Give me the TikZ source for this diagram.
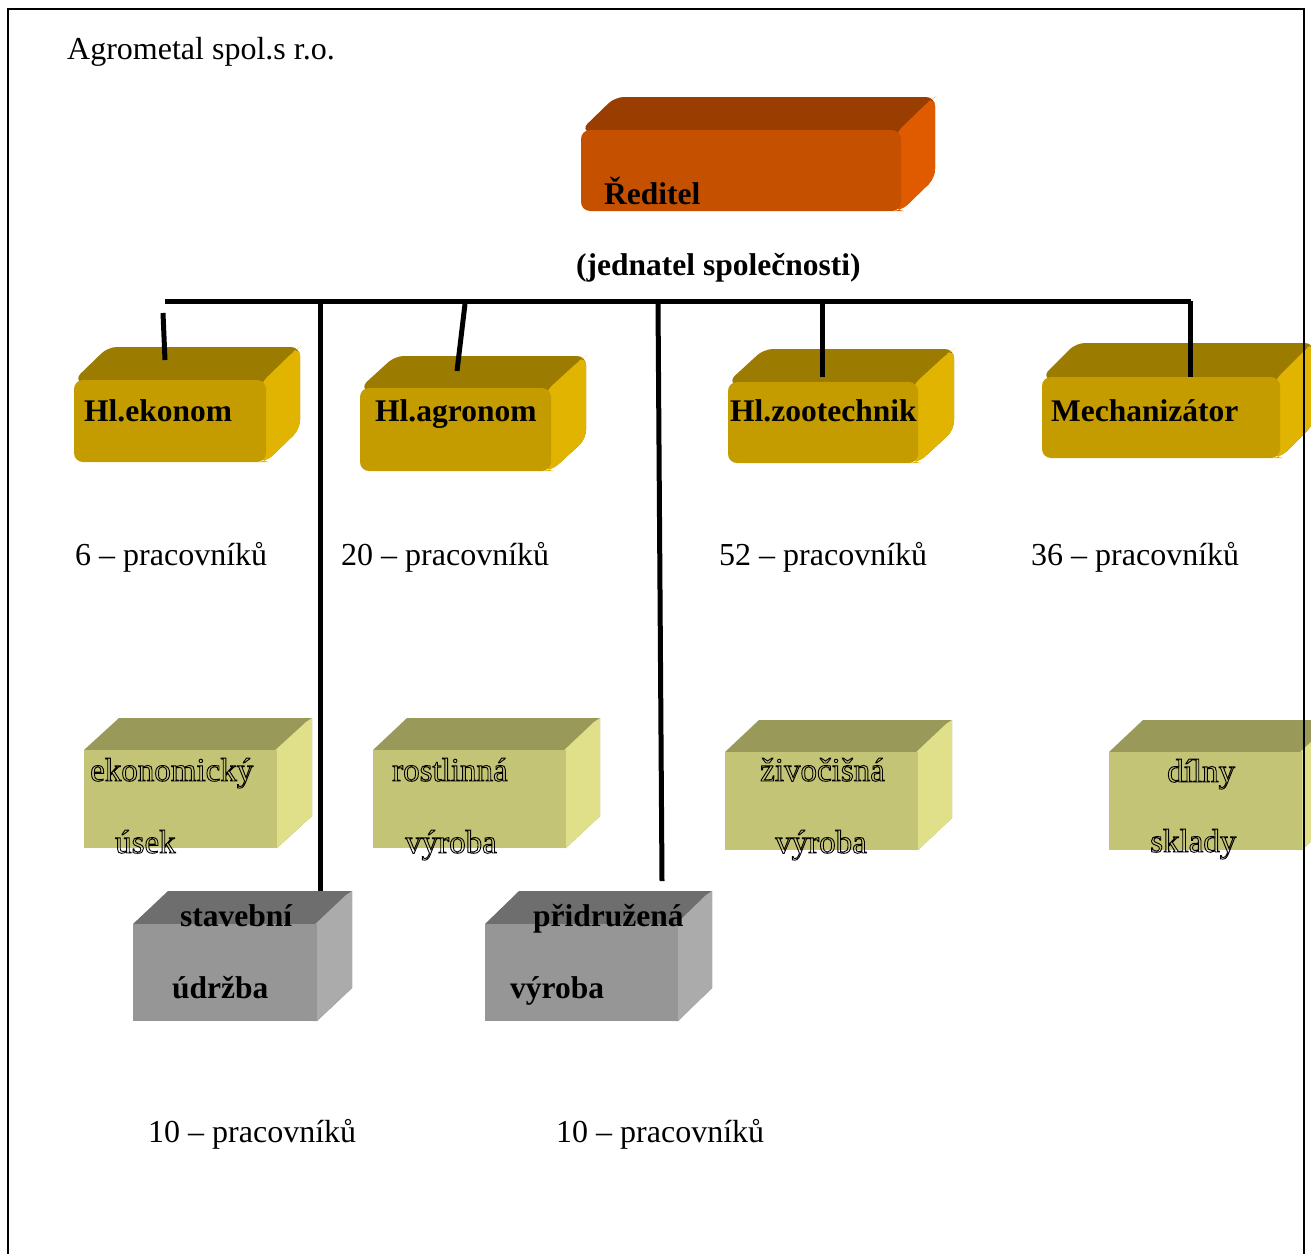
\documentclass[tikz,border=0pt]{standalone}
\usepackage{fontspec}
\setmainfont{Liberation Serif}
\definecolor{orF}{HTML}{C55000}
\definecolor{orT}{HTML}{9A3D00}
\definecolor{orR}{HTML}{E05A00}
\definecolor{goF}{HTML}{C49C00}
\definecolor{goT}{HTML}{9B7B00}
\definecolor{goR}{HTML}{E0B400}
\definecolor{olF}{HTML}{C4C477}
\definecolor{olT}{HTML}{99995A}
\definecolor{olR}{HTML}{E0E08A}
\definecolor{grF}{HTML}{969696}
\definecolor{grT}{HTML}{6E6E6E}
\definecolor{grR}{HTML}{ABABAB}
% name, x, y, w, h, colour prefix, dx, dy, corner radius
\newcommand{\cuboid}[9]{%
  \fill[#6T, rounded corners=#9] (#2,#3) -- ({#2+#7},{#3-#8}) -- ({#2+#4+#7},{#3-#8})
     -- ({#2+#4+#7},{#3+#5-#8}) -- ({#2+#4},{#3+#5}) -- cycle;
  \fill[#6R, rounded corners=#9] ({#2+#4-6},{#3+4}) -- ({#2+#4+#7-6},{#3-#8+4}) -- ({#2+#4+#7},{#3-#8})
     -- ({#2+#4+#7},{#3+#5-#8}) -- ({#2+#4},{#3+#5}) -- ({#2+#4-6},{#3+#5}) -- cycle;
  \node[fill=#6F, rounded corners=#9, minimum width=#4, minimum height=#5,
        anchor=north west, inner sep=0pt, outer sep=0pt] (#1) at (#2,#3) {};
}
\newcommand{\outl}[1]{\special{pdf:literal direct q 1 Tr 0.9 w}#1\special{pdf:literal direct Q}}
\begin{document}
\begin{tikzpicture}[x=1pt,y=-1pt,
  lbl/.style={inner sep=0pt, anchor=base west, font=\fontsize{32}{36}\selectfont},
  olbl/.style={inner sep=0pt, anchor=base west, font=\fontsize{33}{36}\selectfont},
  blbl/.style={lbl, font=\fontsize{31.5}{36}\selectfont\bfseries},
  conn/.style={line width=5pt, black}]
\useasboundingbox (0,0) rectangle (1311,1253);
\clip (0,0) rectangle (1311,1253);

% boxes
\cuboid{reditel}{581}{130}{320}{81}{or}{34}{33}{9}
\cuboid{ekonom}{74}{380}{192}{82}{go}{34}{33}{9}
\cuboid{agronom}{360}{388}{191}{83}{go}{35}{32}{9}
\cuboid{zoo}{728}{382}{190}{81}{go}{36}{33}{9}
\cuboid{mech}{1042}{377}{238}{81}{go}{34}{34}{9}
\cuboid{eku}{84}{750}{193}{98}{ol}{35}{32}{0}
\cuboid{rost}{373}{750}{193}{98}{ol}{34}{32}{0}
\cuboid{ziv}{725}{752}{193}{98}{ol}{34}{32}{0}
\cuboid{dil}{1109}{752}{193}{98}{ol}{34}{32}{0}
\cuboid{stav}{133}{924}{184}{97}{gr}{35}{33}{0}
\cuboid{prid}{485}{924}{193}{97}{gr}{34}{33}{0}

% texts
\node[lbl] (firma) at (67,59) {Agrometal spol.s r.o.};
\node[blbl] (treditel) at (604,204) {Ředitel};
\node[blbl] (tjed) at (576,275) {(jednatel společnosti)};
\node[blbl] (tekonom) at (84,421) {Hl.ekonom};
\node[blbl] (tagronom) at (375,421) {Hl.agronom};
\node[blbl] (tzoo) at (730,421) {Hl.zootechnik};
\node[blbl] (tmech) at (1051,421) {Mechanizátor};
\node[lbl] (p1) at (75,565) {6 – pracovníků};
\node[lbl] (p2) at (341,565) {20 – pracovníků};
\node[lbl] (p3) at (719,565) {52 – pracovníků};
\node[lbl] (p4) at (1031,565) {36 – pracovníků};
\node[olbl] (teku1) at (90,781) {\outl{ekonomický}};
\node[olbl] (teku2) at (115,853) {\outl{úsek}};
\node[olbl] (trost1) at (392,781) {\outl{rostlinná}};
\node[olbl] (trost2) at (405,853) {\outl{výroba}};
\node[olbl] (tziv1) at (760,781) {\outl{živočišná}};
\node[olbl] (tziv2) at (775,853) {\outl{výroba}};
\node[olbl] (tdil1) at (1167,782) {\outl{dílny}};
\node[olbl] (tdil2) at (1150,852) {\outl{sklady}};
\node[blbl] (tstav1) at (180,926) {stavební};
\node[blbl] (tstav2) at (172,998) {údržba};
\node[blbl] (tprid1) at (533,926) {přidružená};
\node[blbl] (tprid2) at (510,998) {výroba};
\node[lbl] (p5) at (148,1142) {10 – pracovníků};
\node[lbl] (p6) at (556,1142) {10 – pracovníků};

% connectors
\coordinate (barL) at (165,301);
\coordinate (barR) at (1191,301);
\coordinate (s1a) at (163,313);
\coordinate (s1b) at (165,360);
\coordinate (s2a) at (320,301);
\coordinate (s2b) at (320,891);
\coordinate (s3a) at (465,304);
\coordinate (s3b) at (457,371);
\coordinate (s4a) at (658,301);
\coordinate (s4b) at (662,881);
\coordinate (s5a) at (822,301);
\coordinate (s5b) at (822,377);
\coordinate (s6a) at (1190,301);
\coordinate (s6b) at (1190,377);
\draw[conn] (barL) -- (barR);
\draw[conn] (s1a) -- (s1b);
\draw[conn] (s2a) -- (s2b);
\draw[conn] (s3a) -- (s3b);
\draw[conn] (s4a) -- (s4b);
\draw[conn] (s5a) -- (s5b);
\draw[conn] (s6a) -- (s6b);

% frame
\coordinate (fbl) at (8,1270);
\coordinate (ftl) at (8,9);
\coordinate (ftr) at (1304,9);
\coordinate (fbr) at (1304,1270);
\draw[line width=2pt] (fbl) -- (ftl) -- (ftr) -- (fbr);
\end{tikzpicture}
\end{document}
